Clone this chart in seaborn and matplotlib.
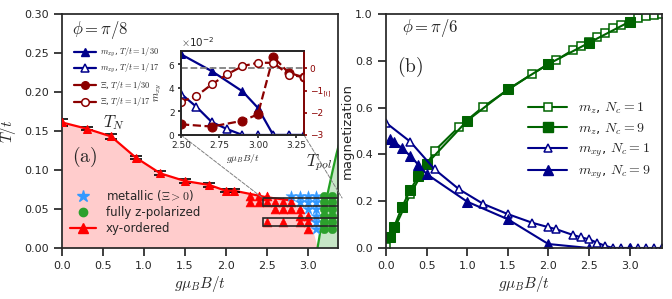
import numpy as np
import pandas as pd
import matplotlib
matplotlib.use("Agg")
import matplotlib.pyplot as plt
import seaborn as sns
from matplotlib.lines import Line2D
from matplotlib.patches import Rectangle, ConnectionPatch

# ---------------- data: panel (a) ----------------
TN_B = [0.0, 0.3, 0.6, 0.9, 1.2, 1.5, 1.8, 2.0, 2.1]
TN_T = [0.161, 0.153, 0.143, 0.116, 0.0957, 0.0859, 0.0808, 0.0733, 0.0735]
TN_err = [0.004, 0.002, 0.003, 0.0025, 0.0025, 0.002, 0.002, 0.002, 0.002]
TN_tail_B = [2.1, 2.5, 2.82]
TN_tail_T = [0.0735, 0.065, 0.0607]
xy_edge_B = [2.95, 3.05, 3.12]
xy_edge_T = [0.045, 0.027, 0.0]
pol_B = [3.12, 3.16, 3.20, 3.25, 3.30, 3.35, 3.40]
pol_T = [0.0, 0.025, 0.048, 0.073, 0.097, 0.12, 0.14]

xy_B = [2.3, 2.4, 2.5,
        2.3, 2.4, 2.5, 2.6, 2.7, 2.8,
        2.6, 2.7, 2.8, 2.9,
        2.9, 3.0,
        2.5, 2.7, 2.9, 3.0,
        3.0]
xy_T = [1/15, 1/15, 1/15,
        1/17, 1/17, 1/17, 1/17, 1/17, 1/17,
        1/20, 1/20, 1/20, 1/20,
        1/24, 1/24,
        1/30, 1/30, 1/30, 1/30,
        1/40]
met_B = [2.8, 2.9, 3.0, 3.1, 2.9, 3.0, 3.1, 3.0, 3.1, 3.1, 3.1, 3.1]
met_T = [1/15, 1/15, 1/15, 1/15, 1/17, 1/17, 1/17, 1/20, 1/20, 1/24, 1/30, 1/40]
zp_B = [3.2, 3.3] * 6
zp_T = [1/15, 1/15, 1/17, 1/17, 1/20, 1/20, 1/24, 1/24, 1/30, 1/30, 1/40, 1/40]
rect_T = [1/17, 1/30]

# inset data
in_B30 = [2.5, 2.7, 2.9, 3.0, 3.1, 3.2, 3.3]
in_mxy30 = [0.0686, 0.0543, 0.0371, 0.0231, 0.0, 0.0, 0.0]
in_xi30 = [-2.52, -2.62, -2.36, -2.07, 0.52, -0.2, -0.4]
in_B17 = [2.5, 2.6, 2.7, 2.8, 2.9, 3.0, 3.1, 3.2, 3.3]
in_mxy17 = [0.035, 0.024, 0.011, 0.005, 0.0, 0.0, 0.0, 0.0, 0.0]
in_xi17 = [-1.5, -1.25, -0.72, -0.27, 0.1, 0.25, 0.25, -0.28, -0.4]

# ---------------- data: panel (b) ----------------
B1 = [0.0, 0.3, 0.6, 0.9, 1.2, 1.5, 1.8, 2.0, 2.1, 2.3, 2.4, 2.5, 2.6, 2.7,
      2.8, 2.9, 3.0, 3.1, 3.2, 3.3, 3.4]
mz1 = [0.005, 0.23, 0.416, 0.518, 0.604, 0.675, 0.744, 0.786, 0.803, 0.846,
       0.863, 0.879, 0.9, 0.92, 0.939, 0.953, 0.967, 0.984, 0.991, 0.996, 0.999]
mxy1 = [0.535, 0.454, 0.336, 0.251, 0.188, 0.145, 0.108, 0.089, 0.08, 0.056,
        0.046, 0.037, 0.023, 0.009, 0.0, 0.0, 0.0, 0.0, 0.0, 0.0, 0.0]
B9 = [0.05, 0.1, 0.2, 0.3, 0.4, 0.5, 1.0, 1.5, 2.0, 2.5, 3.0]
mz9 = [0.046, 0.091, 0.177, 0.248, 0.308, 0.359, 0.544, 0.678, 0.786, 0.877, 0.967]
mxy9 = [0.464, 0.454, 0.426, 0.393, 0.355, 0.316, 0.198, 0.123, 0.017, 0.0, 0.0]

# ---------------- style ----------------
sns.set_theme(style="ticks")
plt.rcParams["font.family"] = ["DejaVu Sans"]
plt.rcParams["mathtext.fontset"] = "cm"
plt.rcParams["xtick.labelsize"] = 8
plt.rcParams["ytick.labelsize"] = 8
plt.rcParams["axes.edgecolor"] = "0.15"

RED = "red"
DBLUE = "#00008b"
DRED = "#8b0000"
DGREEN = "#006400"

fig = plt.figure(figsize=(6.72, 2.99), dpi=100)
ax = fig.add_axes([62/672, 1-248/299, 276/672, 234/299])
axb = fig.add_axes([386/672, 1-248/299, 276/672, 234/299])

# ---------------- panel (a) ----------------
fill_B = TN_B + TN_tail_B[1:] + xy_edge_B
fill_T = TN_T + TN_tail_T[1:] + xy_edge_T
ax.fill_between(fill_B, 0, fill_T, color="#ffcccc", lw=0, zorder=0)
ax.fill_betweenx(pol_T, pol_B, 3.6, color="#c6e6c6", lw=0, zorder=0)
sns.lineplot(x=pol_B, y=pol_T, ax=ax, color="#22a022", lw=1.6, sort=False, zorder=2)

sns.lineplot(x=TN_tail_B, y=TN_tail_T, ax=ax, color=RED, lw=1.6, sort=False, zorder=3)
ax.errorbar(TN_B, TN_T, yerr=TN_err, fmt="none", ecolor="black", elinewidth=0.8,
            capsize=4.5, capthick=1.2, zorder=4)
sns.lineplot(x=TN_B, y=TN_T, ax=ax, color=RED, lw=1.6, marker="^", markersize=6,
             markeredgecolor=RED, markerfacecolor=RED, sort=False, zorder=5)

sns.scatterplot(x=xy_B, y=xy_T, ax=ax, marker="^", color=RED, s=40, edgecolor=RED,
                linewidth=0.5, zorder=5)
sns.scatterplot(x=met_B, y=met_T, ax=ax, marker="*", color="#3399ff", s=70,
                edgecolor="#3399ff", linewidth=0.3, zorder=5)
sns.scatterplot(x=zp_B, y=zp_T, ax=ax, marker="o", color="#2ca02c", s=38,
                edgecolor="#2ca02c", linewidth=0.3, zorder=5)

for tr in rect_T:
    ax.add_patch(Rectangle((2.45, tr - 0.0053), 1.2, 0.0106, fill=False,
                           ec="0.15", lw=1.2, zorder=6))

ax.set_xlim(0, 3.37)
ax.set_ylim(0, 0.30)
ax.set_xticks([0.0, 0.5, 1.0, 1.5, 2.0, 2.5, 3.0])
ax.set_yticks([0.0, 0.05, 0.10, 0.15, 0.20, 0.25, 0.30])
ax.set_xticklabels(["0.0", "0.5", "1.0", "1.5", "2.0", "2.5", "3.0"])
ax.set_yticklabels(["0.00", "0.05", "0.10", "0.15", "0.20", "0.25", "0.30"])
ax.set_xlabel(r"$g\mu_B B/t$", fontsize=11, labelpad=2)
ax.set_ylabel(r"$T/t$", fontsize=11, labelpad=4)

ax.text(0.035, 0.93, r"$\phi = \pi/8$", transform=ax.transAxes, fontsize=12,
        ha="left", va="center")
ax.text(0.035, 0.39, r"$\mathrm{(a)}$", transform=ax.transAxes, fontsize=14,
        ha="left", va="center")
ax.text(0.19, 0.535, r"$T_N$", transform=ax.transAxes, fontsize=12,
        ha="center", va="center")
ax.text(0.93, 0.365, r"$T_{pol}$", transform=ax.transAxes, fontsize=12,
        ha="center", va="center", zorder=7)

# legend (phase points)
h_met = Line2D([], [], ls="none", marker="*", color="#3399ff", markersize=9)
h_zp = Line2D([], [], ls="none", marker="o", color="#2ca02c", markersize=6)
h_xy = Line2D([], [], color=RED, lw=1.6, marker="^", markersize=7)
leg1 = ax.legend([h_met, h_zp, h_xy],
                 [r"metallic ($\Xi>0$)", "fully z-polarized", "xy-ordered"],
                 loc="lower left", bbox_to_anchor=(0.0, 0.02), frameon=False,
                 fontsize=8.5, handlelength=2.2, labelspacing=0.25,
                 borderaxespad=0.3)
ax.add_artist(leg1)

# legend (inset curves)
h1 = Line2D([], [], color=DBLUE, lw=1.6, marker="^", markersize=5.5)
h2 = Line2D([], [], color=DBLUE, lw=1.6, marker="^", markersize=5.5,
            markerfacecolor="white", markeredgewidth=1.1)
h3 = Line2D([], [], color=DRED, lw=1.6, marker="o", markersize=5.5)
h4 = Line2D([], [], color=DRED, lw=1.6, marker="o", markersize=5.5,
            markerfacecolor="white", markeredgewidth=1.1)
leg2 = ax.legend([h1, h2, h3, h4],
                 [r"$m_{xy}$, $T/t=1/30$", r"$m_{xy}$, $T/t=1/17$",
                  r"$\Xi$, $T/t=1/30$", r"$\Xi$, $T/t=1/17$"],
                 loc="upper left", bbox_to_anchor=(0.025, 0.885), frameon=False,
                 fontsize=6.0, handlelength=2.6, labelspacing=0.42,
                 handletextpad=0.5, borderaxespad=0.2)

# ---------------- inset ----------------
axi = fig.add_axes([181/672, 1-135/299, 123/672, 84/299])
axi.set_zorder(10)
axi.set_facecolor("white")
axi2 = axi.twinx()
axi2.set_zorder(11)

sns.lineplot(x=in_B30, y=in_mxy30, ax=axi, color=DBLUE, lw=1.6, marker="^",
             markersize=5.5, markeredgecolor=DBLUE, markerfacecolor=DBLUE, sort=False)
sns.lineplot(x=in_B17, y=in_mxy17, ax=axi, color=DBLUE, lw=1.6, marker="^",
             markersize=5.5, markeredgecolor=DBLUE, markerfacecolor="white",
             markeredgewidth=1.1, sort=False)
axi.set_xlim(2.5, 3.3)
axi.set_ylim(0, 0.0714)
axi.set_xticks([2.5, 2.75, 3.0, 3.25])
axi.set_xticklabels(["2.50", "2.75", "3.00", "3.25"])
axi.set_yticks([0, 0.02, 0.04, 0.06])
axi.ticklabel_format(style="sci", axis="y", scilimits=(0, 0), useMathText=True)
axi.yaxis.get_offset_text().set_fontsize(7.5)
axi.tick_params(labelsize=6.5, length=2.5, pad=1.5)
axi.set_xlabel(r"$g\mu_B B/t$", fontsize=7, labelpad=2)
axi.set_ylabel(r"$m_{xy}$", fontsize=7.5, labelpad=3)

axi2.axhline(0, color="gray", ls="--", lw=1.3, zorder=1)
sns.lineplot(x=in_B30, y=in_xi30, ax=axi2, color=DRED, lw=1.6, ls="--",
             marker="o", markersize=6.5, markeredgecolor=DRED,
             markerfacecolor=DRED, sort=False)
sns.lineplot(x=in_B17, y=in_xi17, ax=axi2, color=DRED, lw=1.6, ls="--",
             marker="o", markersize=5.5, markeredgecolor=DRED,
             markerfacecolor="white", markeredgewidth=1.1, sort=False)
axi2.set_ylim(-3, 0.78)
axi2.set_yticks([-3, -2, -1, 0])
axi2.set_yticklabels(["\u22123", "\u22122", "\u22121", "0"])
axi2.tick_params(axis="y", colors=DRED, labelsize=6.5, length=2.5, pad=1.5)
axi2.spines["right"].set_color(DRED)
axi2.set_ylabel(r"$\Xi$", fontsize=7, color=DRED, labelpad=0)

for xyA, xyB in [((0, 0), (2.45, 1/17 + 0.0053)), ((1, 0), (3.42, 1/17 + 0.0053))]:
    con = ConnectionPatch(xyA=xyA, coordsA=axi.transAxes, xyB=xyB,
                          coordsB=ax.transData, color="gray", ls="--", lw=0.7)
    fig.add_artist(con)

# ---------------- panel (b) ----------------
sns.lineplot(x=B1, y=mz1, ax=axb, color=DGREEN, lw=1.5, marker="s", markersize=6,
             markeredgecolor=DGREEN, markerfacecolor="white", markeredgewidth=1.1,
             sort=False)
sns.lineplot(x=B9, y=mz9, ax=axb, color=DGREEN, lw=1.5, marker="s", markersize=7,
             markeredgecolor=DGREEN, markerfacecolor=DGREEN, sort=False)
sns.lineplot(x=B1, y=mxy1, ax=axb, color=DBLUE, lw=1.5, marker="^", markersize=6,
             markeredgecolor=DBLUE, markerfacecolor="white", markeredgewidth=1.1,
             sort=False)
sns.lineplot(x=B9, y=mxy9, ax=axb, color=DBLUE, lw=1.5, marker="^", markersize=7,
             markeredgecolor=DBLUE, markerfacecolor=DBLUE, sort=False)
axb.set_xlim(0, 3.4)
axb.set_ylim(0, 1.0)
axb.set_xticks([0.0, 0.5, 1.0, 1.5, 2.0, 2.5, 3.0])
axb.set_xticklabels(["0.0", "0.5", "1.0", "1.5", "2.0", "2.5", "3.0"])
axb.set_yticks([0.0, 0.2, 0.4, 0.6, 0.8, 1.0])
axb.set_yticklabels(["0.0", "0.2", "0.4", "0.6", "0.8", "1.0"])
axb.set_xlabel(r"$g\mu_B B/t$", fontsize=11, labelpad=2)
axb.set_ylabel("magnetization", fontsize=9.5, labelpad=1)
axb.text(0.058, 0.94, r"$\phi = \pi/6$", transform=axb.transAxes, fontsize=12,
         ha="left", va="center")
axb.text(0.04, 0.775, r"$\mathrm{(b)}$", transform=axb.transAxes, fontsize=14,
         ha="left", va="center")

hb1 = Line2D([], [], color=DGREEN, lw=1.5, marker="s", markersize=6,
             markerfacecolor="white", markeredgewidth=1.1)
hb2 = Line2D([], [], color=DGREEN, lw=1.5, marker="s", markersize=7)
hb3 = Line2D([], [], color=DBLUE, lw=1.5, marker="^", markersize=6,
             markerfacecolor="white", markeredgewidth=1.1)
hb4 = Line2D([], [], color=DBLUE, lw=1.5, marker="^", markersize=7)
axb.legend([hb1, hb2, hb3, hb4],
           [r"$m_z$, $N_c=1$", r"$m_z$, $N_c=9$", r"$m_{xy}$, $N_c=1$",
            r"$m_{xy}$, $N_c=9$"],
           loc="lower right", bbox_to_anchor=(0.99, 0.25), frameon=False,
           fontsize=10, handlelength=2.8, labelspacing=0.35, borderaxespad=0.2)

fig.savefig("out.png", dpi=100)
